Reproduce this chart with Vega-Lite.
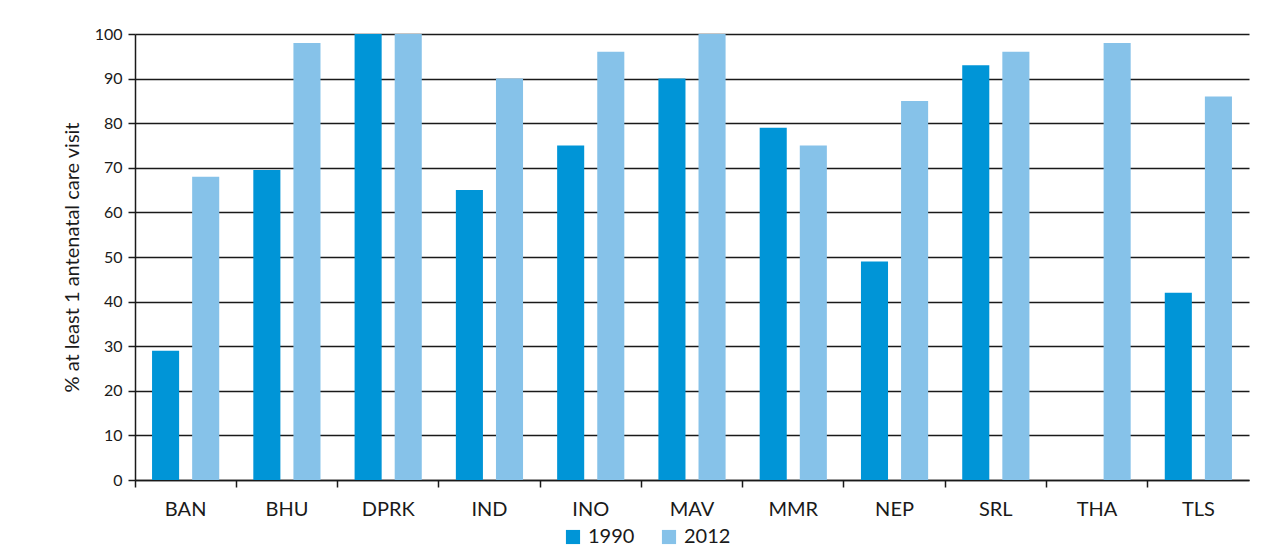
{
  "$schema": "https://vega.github.io/schema/vega-lite/v6.json",
  "autosize": "none",
  "width": 1114,
  "height": 446,
  "padding": {"left": 135, "top": 34, "right": 35, "bottom": 74},
  "background": "white",
  "config": {
    "font": "Lato",
    "view": {"stroke": null},
    "axis": {"labelFont": "Lato", "titleFont": "Lato", "labelColor": "#1a1a1a", "titleColor": "#1a1a1a"}
  },
  "data": {
    "values": [
      {"country": "BAN", "year": "1990", "pct": 29},
      {"country": "BAN", "year": "2012", "pct": 68},
      {"country": "BHU", "year": "1990", "pct": 69.5},
      {"country": "BHU", "year": "2012", "pct": 98},
      {"country": "DPRK", "year": "1990", "pct": 100},
      {"country": "DPRK", "year": "2012", "pct": 100},
      {"country": "IND", "year": "1990", "pct": 65},
      {"country": "IND", "year": "2012", "pct": 90},
      {"country": "INO", "year": "1990", "pct": 75},
      {"country": "INO", "year": "2012", "pct": 96},
      {"country": "MAV", "year": "1990", "pct": 90},
      {"country": "MAV", "year": "2012", "pct": 100},
      {"country": "MMR", "year": "1990", "pct": 79},
      {"country": "MMR", "year": "2012", "pct": 75},
      {"country": "NEP", "year": "1990", "pct": 49},
      {"country": "NEP", "year": "2012", "pct": 85},
      {"country": "SRL", "year": "1990", "pct": 93},
      {"country": "SRL", "year": "2012", "pct": 96},
      {"country": "THA", "year": "1990", "pct": null},
      {"country": "THA", "year": "2012", "pct": 98},
      {"country": "TLS", "year": "1990", "pct": 42},
      {"country": "TLS", "year": "2012", "pct": 86}
    ]
  },
  "mark": {"type": "bar"},
  "encoding": {
    "x": {
      "field": "country",
      "type": "nominal",
      "sort": null,
      "scale": {"paddingInner": 0, "paddingOuter": 0},
      "axis": {
        "title": null,
        "labelAngle": 0,
        "labelFontSize": 20,
        "labelPadding": 12,
        "bandPosition": 0,
        "tickSize": 7,
        "tickColor": "#1a1a1a",
        "tickWidth": 1.5,
        "domainColor": "#1a1a1a",
        "domainWidth": 1.5,
        "grid": false
      }
    },
    "xOffset": {
      "field": "year",
      "type": "nominal",
      "scale": {"paddingInner": 0.325, "paddingOuter": 0.425}
    },
    "y": {
      "field": "pct",
      "type": "quantitative",
      "scale": {"domain": [0, 100], "nice": false},
      "axis": {
        "title": "% at least 1 antenatal care visit",
        "titleFontSize": 20,
        "titleFontWeight": "normal",
        "titlePadding": 12,
        "labelFontSize": 16,
        "labelPadding": 6,
        "values": [0, 10, 20, 30, 40, 50, 60, 70, 80, 90, 100],
        "tickSize": 7,
        "tickColor": "#1a1a1a",
        "tickWidth": 1.5,
        "domainColor": "#1a1a1a",
        "domainWidth": 1.5,
        "grid": true,
        "gridColor": "#1a1a1a",
        "gridWidth": 1.5
      }
    },
    "color": {
      "field": "year",
      "type": "nominal",
      "scale": {"domain": ["1990", "2012"], "range": ["#0095d7", "#86c2e9"]},
      "legend": {
        "title": null,
        "orient": "none",
        "legendX": 428,
        "legendY": 493,
        "direction": "horizontal",
        "symbolType": "square",
        "symbolSize": 200,
        "symbolStrokeWidth": 0,
        "labelFontSize": 20,
        "labelColor": "#1a1a1a",
        "labelOffset": 5,
        "columnPadding": 24,
        "padding": 0
      }
    }
  }
}
